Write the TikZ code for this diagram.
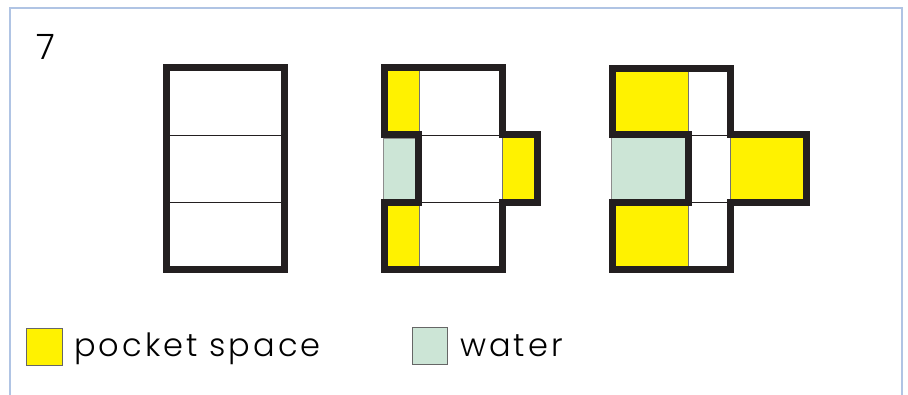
\documentclass[tikz,border=0pt]{standalone}
\usepackage{fontspec}
\setmainfont{Poppins}[UprightFont={* Light}]
\newfontfamily\keyfont{Poppins}[UprightFont={* Light}, LetterSpace=9.5]
\usetikzlibrary{positioning}
\definecolor{pocketyellow}{RGB}{255,242,0}
\definecolor{watergreen}{RGB}{204,229,214}
\definecolor{wallblack}{RGB}{35,31,32}
\definecolor{frameblue}{RGB}{176,196,228}

\begin{document}
\begin{tikzpicture}[x=1pt, y=-1pt,
    wall/.style={draw=wallblack, line width=7pt},
    cell/.style={draw=wallblack, line width=0.8pt},
    pocket/.style={fill=pocketyellow, draw=black!55, line width=0.6pt},
    water/.style={fill=watergreen, draw=black!45, line width=0.6pt},
    swatch/.style={rectangle, draw=black!60, line width=0.8pt,
                   minimum width=35.6pt, minimum height=36.7pt, inner sep=0pt},
    keytext/.style={font=\keyfont\fontsize{32}{38}\selectfont,
                    inner sep=0pt, anchor=base west}
]
\useasboundingbox (0,0) rectangle (908,395);

%% Panel frame (open at the bottom)
\draw[frameblue, line width=1.5pt] (10,395) -- (10,8) -- (902,8) -- (902,395);

\node[font=\fontsize{35}{40}\selectfont, inner sep=0pt, anchor=base west] (num) at (36,59.3) {7};

%% ── Stage 1: plain stack of three cells ────────────────────────
\draw[cell] (166.5,135) -- (284.5,135);
\draw[cell] (166.5,202.5) -- (284.5,202.5);
\draw[wall] (166.5,67.8) rectangle (284.5,269.3);

%% ── Stage 2: narrow pockets ────────────────────────────────────
\fill[pocket] (384,68) rectangle (419,135);
\fill[pocket] (384,202.5) rectangle (419,269);
\filldraw[water] (383.5,138.5) rectangle (416,199.5);
\fill[pocket] (502.5,135) rectangle (537.5,202.5);
\draw[pocket, fill=none] (419,68) -- (419,135);
\draw[pocket, fill=none] (419,202.5) -- (419,269);
\draw[cell] (418.5,135) -- (502.5,135);
\draw[cell] (418.5,202.5) -- (502.5,202.5);
\draw[wall] (384,67.8) -- (502.5,67.8) -- (502.5,135) -- (537.5,135)
    -- (537.5,202.5) -- (502.5,202.5) -- (502.5,269.2) -- (384,269.2)
    -- (384,202.5) -- (418.5,202.5) -- (418.5,135) -- (384,135) -- cycle;

%% ── Stage 3: wide pockets ──────────────────────────────────────
\fill[pocket] (612,68.5) rectangle (688,135);
\fill[pocket] (612,202.5) rectangle (688,269.5);
\filldraw[water] (611.7,135) rectangle (688,202.5);
\fill[pocket] (730,135) rectangle (806,202.5);
\draw[pocket, fill=none] (688,68.5) -- (688,135);
\draw[pocket, fill=none] (688,202.5) -- (688,269.5);
\draw[pocket, fill=none] (730,135) -- (730,202.5);
\draw[cell] (688,135) -- (730,135);
\draw[cell] (688,202.5) -- (730,202.5);
\draw[wall] (612,68.5) -- (730,68.5) -- (730,135) -- (806,135)
    -- (806,202.5) -- (730,202.5) -- (730,269.5) -- (612,269.5)
    -- (612,202.5) -- (688,202.5) -- (688,135) -- (612,135) -- cycle;

%% Legend
\node[swatch, fill=pocketyellow] (pocketkey) at (44.5,346.6) {};
\node[keytext] (pocketlabel) at (74,356.7) {pocket space};
\node[swatch, fill=watergreen] (waterkey) at (429.7,346) {};
\node[keytext] (waterlabel) at (460,356.7) {water};

\end{tikzpicture}
\end{document}
